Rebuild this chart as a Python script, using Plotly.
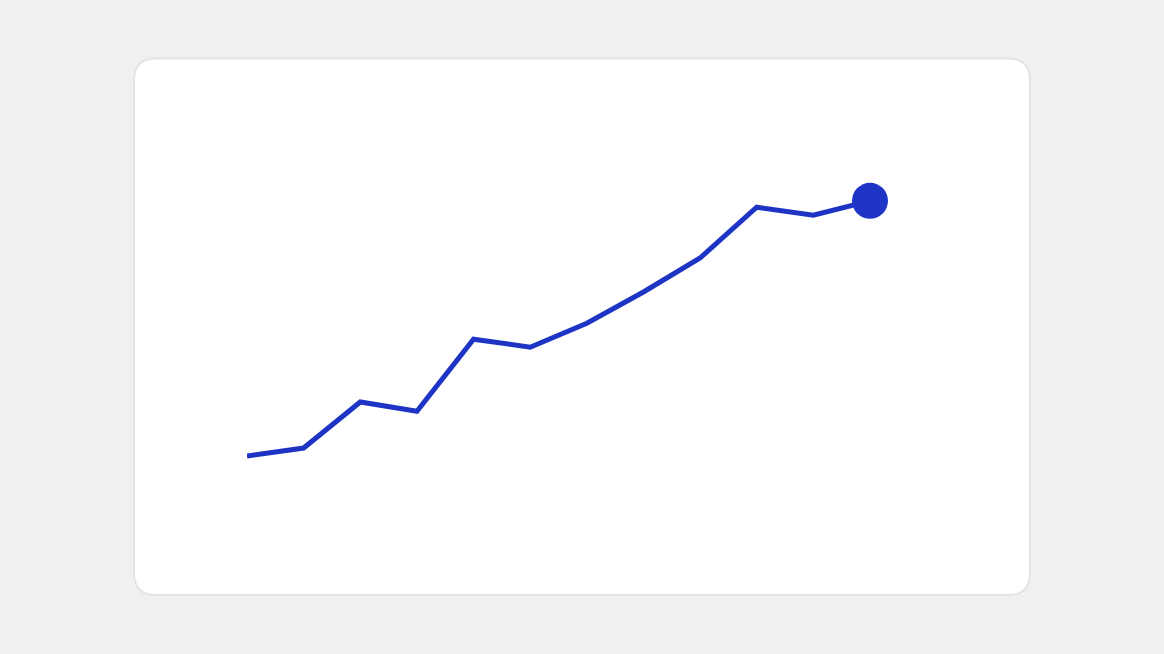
import plotly.graph_objects as go

W, H = 1164, 654

steps = list(range(12))
values = [12, 13, 18.75, 17.6, 26.6, 25.6, 28.6, 32.5, 36.75, 43.1, 42.1, 43.9]

LINE_COLOR = "#1e34c4"


def px(x):
    return x / W


def py(y):
    return 1 - y / H


def rounded_rect(x0, y0, x1, y1, r):
    # path in paper fractions, corners drawn with quadratic curves
    pts = [
        f"M {px(x0 + r)} {py(y0)}",
        f"L {px(x1 - r)} {py(y0)}",
        f"Q {px(x1)} {py(y0)} {px(x1)} {py(y0 + r)}",
        f"L {px(x1)} {py(y1 - r)}",
        f"Q {px(x1)} {py(y1)} {px(x1 - r)} {py(y1)}",
        f"L {px(x0 + r)} {py(y1)}",
        f"Q {px(x0)} {py(y1)} {px(x0)} {py(y1 - r)}",
        f"L {px(x0)} {py(y0 + r)}",
        f"Q {px(x0)} {py(y0)} {px(x0 + r)} {py(y0)}",
        "Z",
    ]
    return " ".join(pts)


fig = go.Figure()

fig.add_trace(
    go.Scatter(
        x=steps,
        y=values,
        mode="lines",
        line=dict(color=LINE_COLOR, width=5),
        cliponaxis=False,
        hoverinfo="skip",
    )
)

fig.add_trace(
    go.Scatter(
        x=[steps[-1]],
        y=[values[-1]],
        mode="markers",
        marker=dict(color=LINE_COLOR, size=36),
        cliponaxis=False,
        hoverinfo="skip",
    )
)

fig.update_layout(
    width=W,
    height=H,
    margin=dict(l=0, r=0, t=0, b=0),
    paper_bgcolor="#f0f0f0",
    plot_bgcolor="rgba(0,0,0,0)",
    showlegend=False,
    xaxis=dict(
        domain=[px(247), px(870)],
        range=[0, 11],
        visible=False,
        fixedrange=True,
    ),
    yaxis=dict(
        domain=[py(552), py(152)],
        range=[0, 50],
        visible=False,
        fixedrange=True,
    ),
    shapes=[
        dict(
            type="path",
            xref="paper",
            yref="paper",
            path=rounded_rect(134, 58.5, 1030, 595, 22),
            fillcolor="#ffffff",
            line=dict(color="#e4e4e4", width=2),
            layer="below",
        )
    ],
)

# drop the default page margin so the figure sits flush in the window
fig.write_html(
    "out.html",
    config={"displayModeBar": False},
    post_script="document.body.style.margin='0';"
    "document.body.style.background='#f0f0f0';",
)
